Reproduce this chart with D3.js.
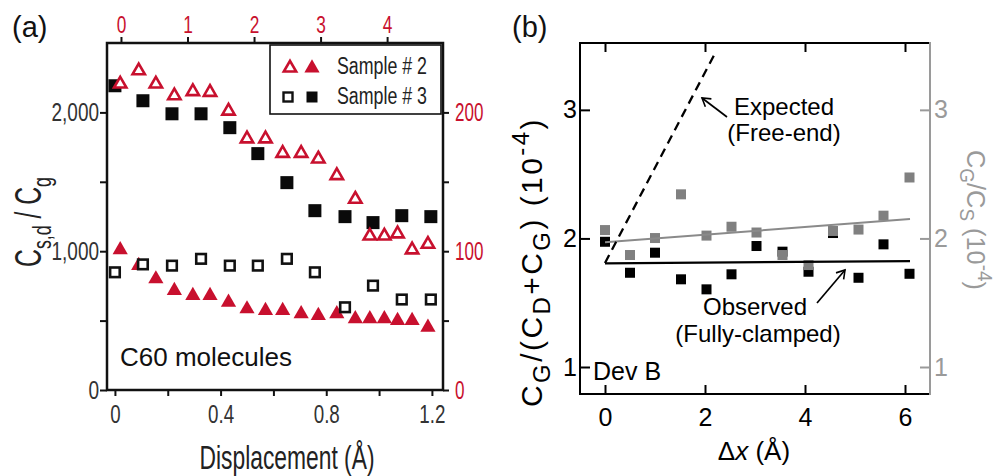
<!DOCTYPE html>
<html>
<head>
<meta charset="utf-8">
<script src="https://cdn.jsdelivr.net/npm/d3@7"></script>
<style>
  html, body { margin: 0; padding: 0; background: #fff; }
  svg { display: block; }
</style>
</head>
<body>
<svg id="fig" width="998" height="476"></svg>
<script>
// ---------- Panel (a): C60 molecules, ratio vs displacement ----------
const s2Disp   = [0.02, 0.09, 0.155, 0.225, 0.295, 0.36, 0.43, 0.50, 0.57, 0.635, 0.705, 0.77, 0.84, 0.91, 0.965, 1.02, 1.07, 1.125, 1.185];
const s2Open   = [2205, 2300, 2205, 2120, 2150, 2145, 2010, 1810, 1810, 1705, 1705, 1665, 1545, 1375, 1110, 1110, 1125, 1010, 1050];
const s2Filled = [101, 89.6, 80, 71.6, 68, 68, 63.2, 58.4, 57.2, 57.2, 54.9, 53.6, 54.9, 51.3, 51.3, 51.3, 50, 50, 45.2];
const s3Disp   = [0, 0.106, 0.216, 0.326, 0.435, 0.541, 0.651, 0.757, 0.871, 0.977, 1.086, 1.196];
const s3Filled = [2192, 2084, 1990, 1990, 1890, 1703, 1494, 1292, 1249, 1206, 1256, 1249];
const s3Open   = [84.8, 90.5, 89.6, 94.5, 89.6, 89.6, 94.5, 84.8, 59.6, 75.2, 65.2, 65.2];

const dispTicks   = [0, 0.2, 0.4, 0.6, 0.8, 1.0, 1.2];
const dispLabels  = [0, 0.4, 0.8, 1.2];
const topTicks    = [0, 1, 2, 3, 4];
const leftTicksA  = [0, 500, 1000, 1500, 2000];
const leftLabelsA = [0, 1000, 2000];
const rightTicksA = [0, 50, 100, 150, 200];
const rightLabelsA = [0, 100, 200];
const legendNames = ["Sample # 2", "Sample # 3"];

// ---------- Panel (b): Dev B, capacitance ratio vs Δx ----------
const dx       = [0, 0.5, 1.0, 1.52, 2.03, 2.53, 3.03, 3.55, 4.07, 4.56, 5.07, 5.57, 6.09];
const ratioGD  = [1.974, 1.733, 1.889, 1.682, 1.604, 1.721, 1.941, 1.897, 1.741, 2.042, 1.694, 1.954, 1.725];
const ratioGS  = [2.065, 1.871, 2.003, 2.343, 2.022, 2.091, 2.046, 1.871, 1.793, 2.058, 2.069, 2.177, 2.474];
const clampedFit = [[0, 1.806], [6.1, 1.824]];
const ratioGSFit = [[0, 1.970], [6.1, 2.151]];
const freeEnd    = [[0, 1.809], [2.2, 3.439]];
const dxTicks    = [0, 2, 4, 6];
const ratioTicks = [1, 2, 3];

const red = "#c8102e";
const grayMark = "#808080";
const grayAxis = "#9a9a9a";
const sans = "'Liberation Sans', Arial, Helvetica, sans-serif";

const svg = d3.select("#fig");

// squeeze text horizontally to a narrow face
function condense(sel, k) {
  sel.each(function () {
    const w = this.getComputedTextLength();
    if (w > 0) {
      this.setAttribute("textLength", (w * k).toFixed(1));
      this.setAttribute("lengthAdjust", "spacingAndGlyphs");
    }
  });
}

// text with sub/superscript runs: parts = [[string, kind]]
function richText(parent, parts, size, subScale) {
  const t = parent.append("text").attr("font-size", size);
  let shift = 0;
  parts.forEach(([s, kind]) => {
    const target = kind === "sub" ? size * 0.28 : kind === "sup" ? -size * 0.42 : 0;
    const ts = t.append("tspan").text(s).attr("dy", (target - shift).toFixed(2));
    if (kind) ts.attr("font-size", (size * subScale).toFixed(1));
    shift = target;
  });
  return t;
}

// fit a text node (in its own local frame) to a target width by horizontal scaling
function fitWidth(t, target) {
  const w = t.node().getBBox().width;
  if (w > 0) t.attr("transform", `scale(${(target / w).toFixed(4)},1)`);
}

// fit a text node to a target width by opening up the letter spacing
function spreadTo(t, target) {
  const w = t.node().getBBox().width;
  const n = t.text().length;
  if (w > 0 && n > 1) t.attr("letter-spacing", ((target - w) / n).toFixed(2));
}

// ================= Panel (a) =================
const A = { left: 107, right: 443, top: 43, bottom: 390 };
const xA = d3.scaleLinear().domain([-0.03, 1.242]).range([A.left, A.right]);
const xAtop = d3.scaleLinear().domain([-0.21, 4.84]).range([A.left, A.right]);
const yA = d3.scaleLinear().domain([0, 2500]).range([A.bottom, A.top]);
const yAr = d3.scaleLinear().domain([0, 250]).range([A.bottom, A.top]);

const gA = svg.append("g");

function styleAxis(g, color, size) {
  g.select(".domain").remove();
  g.attr("font-family", sans).attr("font-size", size);
  g.selectAll(".tick line").attr("stroke", "#111").attr("stroke-width", 2);
  g.selectAll(".tick text").attr("fill", color);
}

const axB = gA.append("g").attr("transform", `translate(0,${A.bottom})`)
  .call(d3.axisBottom(xA).tickValues(dispTicks).tickSizeInner(6).tickSizeOuter(0).tickPadding(9)
    .tickFormat(d => dispLabels.some(v => Math.abs(v - d) < 1e-9) ? (d === 0 ? "0" : d3.format(".1f")(d)) : ""));
styleAxis(axB, "#333", 25);
condense(axB.selectAll(".tick text"), 0.75);

const axT = gA.append("g").attr("transform", `translate(0,${A.top})`)
  .call(d3.axisTop(xAtop).tickValues(topTicks).tickSizeInner(6).tickSizeOuter(0).tickPadding(4).tickFormat(d3.format("d")));
styleAxis(axT, red, 23);
condense(axT.selectAll(".tick text"), 0.75);

const axL = gA.append("g").attr("transform", `translate(${A.left},0)`)
  .call(d3.axisLeft(yA).tickValues(leftTicksA).tickSizeInner(7).tickSizeOuter(0).tickPadding(1)
    .tickFormat(d => leftLabelsA.includes(d) ? d3.format(",")(d) : ""));
styleAxis(axL, "#333", 25);
condense(axL.selectAll(".tick text"), 0.76);

const axR = gA.append("g").attr("transform", `translate(${A.right},0)`)
  .call(d3.axisRight(yAr).tickValues(rightTicksA).tickSizeInner(6).tickSizeOuter(0).tickPadding(6)
    .tickFormat(d => rightLabelsA.includes(d) ? d3.format("d")(d) : ""));
styleAxis(axR, red, 25);
condense(axR.selectAll(".tick text"), 0.68);

// frame
gA.append("rect").attr("x", A.left).attr("y", A.top)
  .attr("width", A.right - A.left).attr("height", A.bottom - A.top)
  .attr("fill", "none").attr("stroke", "#111").attr("stroke-width", 2.5);

// markers
const triFilled = d3.symbol().type(d3.symbolTriangle).size(100);
const triOpen = d3.symbol().type(d3.symbolTriangle).size(66);

gA.append("g").selectAll("rect").data(s3Disp.map((x, i) => [x, s3Filled[i]])).join("rect")
  .attr("x", d => xA(d[0]) - 6.5).attr("y", d => yA(d[1]) - 6.5)
  .attr("width", 13).attr("height", 13).attr("fill", "#0a0a0a");

gA.append("g").selectAll("path").data(s2Disp.map((x, i) => [x, s2Filled[i]])).join("path")
  .attr("d", triFilled).attr("transform", d => `translate(${xA(d[0])},${yAr(d[1])})`)
  .attr("fill", red);

gA.append("g").selectAll("rect").data(s3Disp.map((x, i) => [x, s3Open[i]])).join("rect")
  .attr("x", d => xA(d[0]) - 4.8).attr("y", d => yAr(d[1]) - 4.8)
  .attr("width", 9.6).attr("height", 9.6).attr("fill", "#fff")
  .attr("stroke", "#111").attr("stroke-width", 2.6);

gA.append("g").selectAll("path").data(s2Disp.map((x, i) => [x, s2Open[i]])).join("path")
  .attr("d", triOpen).attr("transform", d => `translate(${xA(d[0])},${yA(d[1])})`)
  .attr("fill", "#fff").attr("stroke", red).attr("stroke-width", 2.6);

// legend
const lg = gA.append("g");
lg.append("rect").attr("x", 270).attr("y", 45).attr("width", 171).attr("height", 69)
  .attr("fill", "#fff").attr("stroke", "#111").attr("stroke-width", 1.6);
lg.append("path").attr("d", triOpen).attr("transform", "translate(290,68)")
  .attr("fill", "#fff").attr("stroke", red).attr("stroke-width", 2.6);
lg.append("path").attr("d", triFilled).attr("transform", "translate(312,68)").attr("fill", red);
lg.append("rect").attr("x", 288 - 4.5).attr("y", 97 - 4.5).attr("width", 9).attr("height", 9)
  .attr("fill", "#fff").attr("stroke", "#111").attr("stroke-width", 2.4);
lg.append("rect").attr("x", 312 - 5.5).attr("y", 97 - 5.5).attr("width", 11).attr("height", 11).attr("fill", "#0a0a0a");
const lgText = lg.selectAll("text.name").data(legendNames).join("text").attr("class", "name")
  .attr("x", 337).attr("y", (d, i) => 74 + i * 30)
  .attr("font-family", sans).attr("font-size", 23).attr("fill", "#222").text(d => d);
lgText.attr("textLength", 90).attr("lengthAdjust", "spacingAndGlyphs");

// annotation and titles
gA.append("text").attr("x", 120).attr("y", 366).attr("font-family", sans).attr("font-size", 26)
  .attr("fill", "#111").text("C60 molecules");

gA.append("text").attr("x", 287).attr("y", 469).attr("text-anchor", "middle")
  .attr("font-family", sans).attr("font-size", 33).attr("fill", "#222")
  .attr("textLength", 175).attr("lengthAdjust", "spacingAndGlyphs").text("Displacement (Å)");

const yLabA = gA.append("g").attr("transform", "translate(41,222) rotate(-90)")
  .attr("font-family", sans).attr("fill", "#222");
const yLabAText = richText(yLabA, [["C"], ["s,d", "sub"], [" / "], ["C"], ["g", "sub"]], 36, 0.72)
  .attr("text-anchor", "middle");
fitWidth(yLabAText, 90);

svg.append("text").attr("x", 12).attr("y", 37).attr("font-family", sans).attr("font-size", 29)
  .attr("fill", "#111").text("(a)");

// ================= Panel (b) =================
const B = { left: 580, right: 930, top: 43, bottom: 394 };
const xB = d3.scaleLinear().domain([-0.5, 6.5]).range([B.left, B.right]);
const yB = d3.scaleLinear().domain([0.79, 3.52]).range([B.bottom, B.top]);
const yBr = yB.copy();

const gB = svg.append("g");

function styleAxisB(g, color) {
  g.select(".domain").remove();
  g.attr("font-family", sans).attr("font-size", 25);
  g.selectAll(".tick line").attr("stroke", color).attr("stroke-width", 2);
  g.selectAll(".tick text").attr("fill", color);
}

const bxB = gB.append("g").attr("transform", `translate(0,${B.bottom})`)
  .call(d3.axisBottom(xB).tickValues(dxTicks).tickSizeInner(-9).tickSizeOuter(0).tickPadding(14).tickFormat(d3.format("d")));
styleAxisB(bxB, "#000");

const bxT = gB.append("g").attr("transform", `translate(0,${B.top})`)
  .call(d3.axisTop(xB).tickValues(dxTicks).tickSizeInner(-9).tickSizeOuter(0).tickFormat(""));
styleAxisB(bxT, "#000");

const byL = gB.append("g").attr("transform", `translate(${B.left},0)`)
  .call(d3.axisLeft(yB).tickValues(ratioTicks).tickSizeInner(-10).tickSizeOuter(0).tickPadding(3).tickFormat(d3.format("d")));
styleAxisB(byL, "#000");

const byR = gB.append("g").attr("transform", `translate(${B.right},0)`)
  .call(d3.axisRight(yBr).tickValues(ratioTicks).tickSizeInner(-10).tickSizeOuter(0).tickPadding(4).tickFormat(d3.format("d")));
styleAxisB(byR, grayAxis);

// frame: black on three sides, gray on the right
const frame = gB.append("g").attr("stroke-width", 2).attr("fill", "none");
frame.append("path").attr("d", `M${B.right - 1},${B.top}H${B.left}V${B.bottom}H${B.right - 1}`).attr("stroke", "#000");
frame.append("line").attr("x1", B.right).attr("x2", B.right).attr("y1", B.top - 1).attr("y2", B.bottom + 1).attr("stroke", grayAxis);

// squares
gB.append("g").selectAll("rect").data(dx.map((x, i) => [x, ratioGD[i]])).join("rect")
  .attr("x", d => xB(d[0]) - 5).attr("y", d => yB(d[1]) - 5)
  .attr("width", 10).attr("height", 10).attr("fill", "#000");
gB.append("g").selectAll("rect").data(dx.map((x, i) => [x, ratioGS[i]])).join("rect")
  .attr("x", d => xB(d[0]) - 5).attr("y", d => yBr(d[1]) - 5)
  .attr("width", 10).attr("height", 10).attr("fill", grayMark);

// lines
const lineB = d3.line().x(d => xB(d[0])).y(d => yB(d[1]));
gB.append("path").attr("d", lineB(ratioGSFit)).attr("fill", "none").attr("stroke", "#8a8a8a").attr("stroke-width", 2);
gB.append("path").attr("d", lineB(clampedFit)).attr("fill", "none").attr("stroke", "#000").attr("stroke-width", 2.2);
gB.append("path").attr("d", lineB(freeEnd)).attr("fill", "none").attr("stroke", "#000")
  .attr("stroke-width", 2.3).attr("stroke-dasharray", "9,6");

// arrows
svg.append("defs").append("marker").attr("id", "vhead").attr("viewBox", "-10 -6 12 12")
  .attr("refX", 0).attr("refY", 0).attr("markerWidth", 12).attr("markerHeight", 12)
  .attr("markerUnits", "userSpaceOnUse").attr("orient", "auto")
  .append("path").attr("d", "M-8,-5L0,0L-8,5").attr("fill", "none").attr("stroke", "#000").attr("stroke-width", 1.6);
gB.append("line").attr("x1", 727).attr("y1", 117).attr("x2", 702).attr("y2", 98)
  .attr("stroke", "#000").attr("stroke-width", 1.7).attr("marker-end", "url(#vhead)");
gB.append("line").attr("x1", 817).attr("y1", 303).attr("x2", 845).attr("y2", 270)
  .attr("stroke", "#000").attr("stroke-width", 1.7).attr("marker-end", "url(#vhead)");

// texts
const ann = gB.append("g").attr("font-family", sans).attr("font-size", 24).attr("fill", "#000").attr("text-anchor", "middle");
ann.append("text").attr("x", 784).attr("y", 115).text("Expected");
ann.append("text").attr("x", 784).attr("y", 141).text("(Free-end)");
ann.append("text").attr("x", 755).attr("y", 315).text("Observed");
ann.append("text").attr("x", 758).attr("y", 342).text("(Fully-clamped)");
gB.append("text").attr("x", 593).attr("y", 380).attr("font-family", sans).attr("font-size", 25).text("Dev B");

const xt = gB.append("text").attr("x", 754).attr("y", 460).attr("text-anchor", "middle")
  .attr("font-family", sans).attr("font-size", 26);
xt.append("tspan").text("Δ");
xt.append("tspan").attr("font-style", "italic").text("x");
xt.append("tspan").text(" (Å)");

const yLabB = gB.append("g").attr("transform", "translate(542,262) rotate(-90)")
  .attr("font-family", sans).attr("fill", "#000");
const yLabBText = richText(yLabB, [["C"], ["G", "sub"], ["/(C"], ["D", "sub"], ["+C"], ["G", "sub"], [") (10"], ["-4", "sup"], [")"]], 30, 0.8)
  .attr("text-anchor", "middle");
spreadTo(yLabBText, 290);

const yLabR = gB.append("g").attr("transform", "translate(967,220) rotate(90)")
  .attr("font-family", sans).attr("fill", grayAxis);
const yLabRText = richText(yLabR, [["C"], ["G", "sub"], ["/C"], ["S", "sub"], [" (10"], ["-4", "sup"], [")"]], 26, 0.75)
  .attr("text-anchor", "middle");
fitWidth(yLabRText, 140);

svg.append("text").attr("x", 512).attr("y", 37).attr("font-family", sans).attr("font-size", 29)
  .attr("fill", "#111").text("(b)");
</script>
</body>
</html>
